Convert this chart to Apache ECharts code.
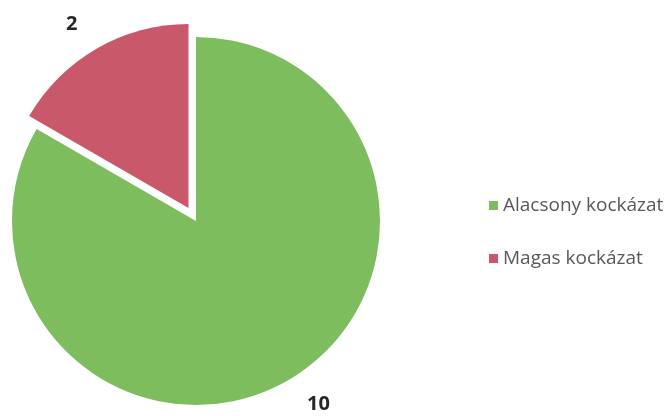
<!DOCTYPE html>
<html>
<head>
<meta charset="utf-8">
<script src="https://cdn.jsdelivr.net/npm/echarts@6/dist/echarts.min.js"></script>
<style>
  html, body { margin: 0; padding: 0; background: #fff; }
  #chart { width: 671px; height: 416px; }
</style>
</head>
<body>
<div id="chart"></div>
<script>
const categories = ['Alacsony kockázat', 'Magas kockázat'];
const values = [10, 2];
const colors = ['#7dbd5e', '#c9596a'];
const exploded = [false, true];

const chart = echarts.init(document.getElementById('chart'));

const option = {
  animation: false,
  legend: {
    orient: 'vertical',
    left: 484,
    top: 191,
    itemWidth: 9,
    itemHeight: 9,
    itemGap: 34,
    icon: 'rect',
    selectedMode: false,
    textStyle: { color: '#595959', fontSize: 19, fontFamily: 'Open Sans' },
    data: categories,
  },
  series: [{
    type: 'pie',
    center: [196, 221],
    radius: 184,
    startAngle: 90,
    clockwise: true,
    selectedMode: 'single',
    selectedOffset: 15,
    emphasis: { scale: false },
    label: {
      show: true,
      position: 'outside',
      formatter: '{c}',
      color: '#262626',
      fontSize: 20,
      fontWeight: 'bold',
      fontFamily: 'Open Sans',
    },
    labelLine: { show: false, length: 28, length2: 0 },
    data: categories.map((name, i) => ({
      name,
      value: values[i],
      selected: exploded[i],
      itemStyle: { color: colors[i] },
    })),
  }],
};

chart.setOption(option);
</script>
</body>
</html>
